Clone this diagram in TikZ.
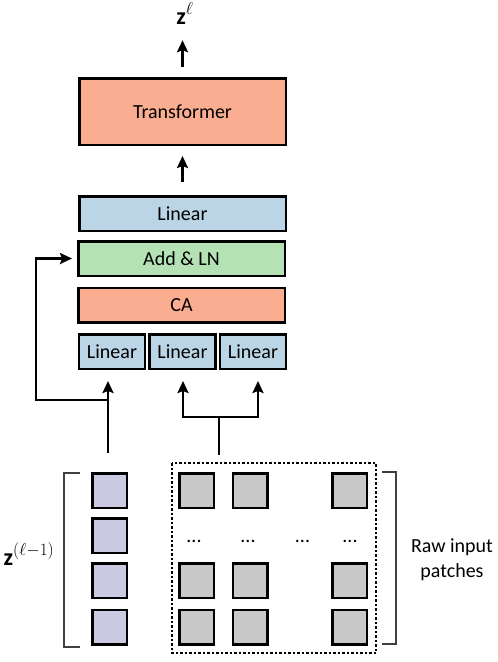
\documentclass[tikz,border=0pt]{standalone}
\usepackage{fontspec}
\setmainfont{Carlito}
\usetikzlibrary{arrows.meta}

\definecolor{salmon}{HTML}{FAAD90}
\definecolor{lblue}{HTML}{BCD5E6}
\definecolor{lgreen}{HTML}{B5E2B5}
\definecolor{lpurple}{HTML}{CBCAE3}
\definecolor{lgray}{HTML}{C8C8C8}

\begin{document}
\begin{tikzpicture}[x=1pt, y=-1pt,
    blk/.style={draw, line width=2.5pt, minimum width=206.5pt, minimum height=34.5pt, inner sep=0, font=\fontsize{20}{24}\selectfont},
    sq/.style={draw, line width=2.5pt, minimum size=34.5pt, inner sep=0},
    lbl/.style={inner sep=0, font=\fontsize{24}{28}\selectfont},
    arr/.style={line width=2.3pt, -{Stealth[length=12pt,width=11pt,inset=2pt]}},
    ln/.style={line width=2.3pt}]
  \useasboundingbox (0,0) rectangle (498,662);
  % stack of blocks
  \node[blk, fill=salmon, minimum height=66.5pt] (trans) at (182.5,111.5) {Transformer};
  \node[blk, fill=lblue] (lin) at (182.5,213.5) {Linear};
  \node[blk, fill=lgreen] (addln) at (181.5,258.5) {Add \& LN};
  \node[blk, fill=salmon] (ca) at (181.5,305) {CA};
  \foreach \x [count=\i] in {112,182.5,253}
    \node[blk, fill=lblue, minimum width=66pt] (lin\i) at (\x,351.5) {Linear};
  % labels
  \node[lbl, anchor=base] (zl) at (185,24) {\textbf{z}$^{\ell}$};
  \node[lbl, anchor=base] (zprev) at (29,565) {\textbf{z}$^{(\ell-1)}$};
  \node[align=center, inner sep=0, font=\fontsize{20}{25}\selectfont] (raw) at (452,560) {Raw input\\patches};
  % arrows
  \draw[arr, shorten <=10pt, shorten >=16pt] (trans.north) -- (trans.north |- zl.south);
  \draw[arr, shorten <=13pt, shorten >=10pt] (lin.north) -- (trans.south);
  \coordinate (zin) at (108,453);
  \coordinate (split) at (108,400);
  \coordinate (pin) at (219,455);
  \coordinate (pbr) at (219,417);
  \draw[arr] (zin) -- ([xshift=-4pt,yshift=-11pt]lin1.south);
  \draw[arr, shorten >=5pt] (split) -| ([xshift=-41pt]addln.west) -- (addln.west);
  \draw[ln] (pin) -- (pbr);
  \draw[arr] (pbr) -| ([xshift=0.5pt,yshift=-11pt]lin2.south);
  \draw[arr] (pbr) -| ([xshift=5pt,yshift=-11pt]lin3.south);
  % input tokens and patches
  \foreach \y [count=\i] in {490.5,535.5,580.5,627}
    \node[sq, fill=lpurple] (z\i) at (109.5,\y) {};
  \foreach \x [count=\j] in {196.5,250,349.5}
    \foreach \y/\r in {490.5/1,580.5/3,627/4}
      \node[sq, fill=lgray] (p\r\j) at (\x,\y) {};
  \foreach \x [count=\j] in {194,248,302.5,350}
    \node[inner sep=0, anchor=base, font=\fontsize{20}{24}\selectfont] (d\j) at (\x,542) {...};
  \draw[line width=1.3pt, dash pattern=on 2.5pt off 2pt] (172,463) rectangle (376,653);
  % brackets
  \draw[line width=1.3pt, black!75] (80,473) -- (64,473) -- (64,647) -- (80,647);
  \draw[line width=1.3pt, black!75] (382,472) -- (396,472) -- (396,644) -- (382,644);
\end{tikzpicture}
\end{document}
